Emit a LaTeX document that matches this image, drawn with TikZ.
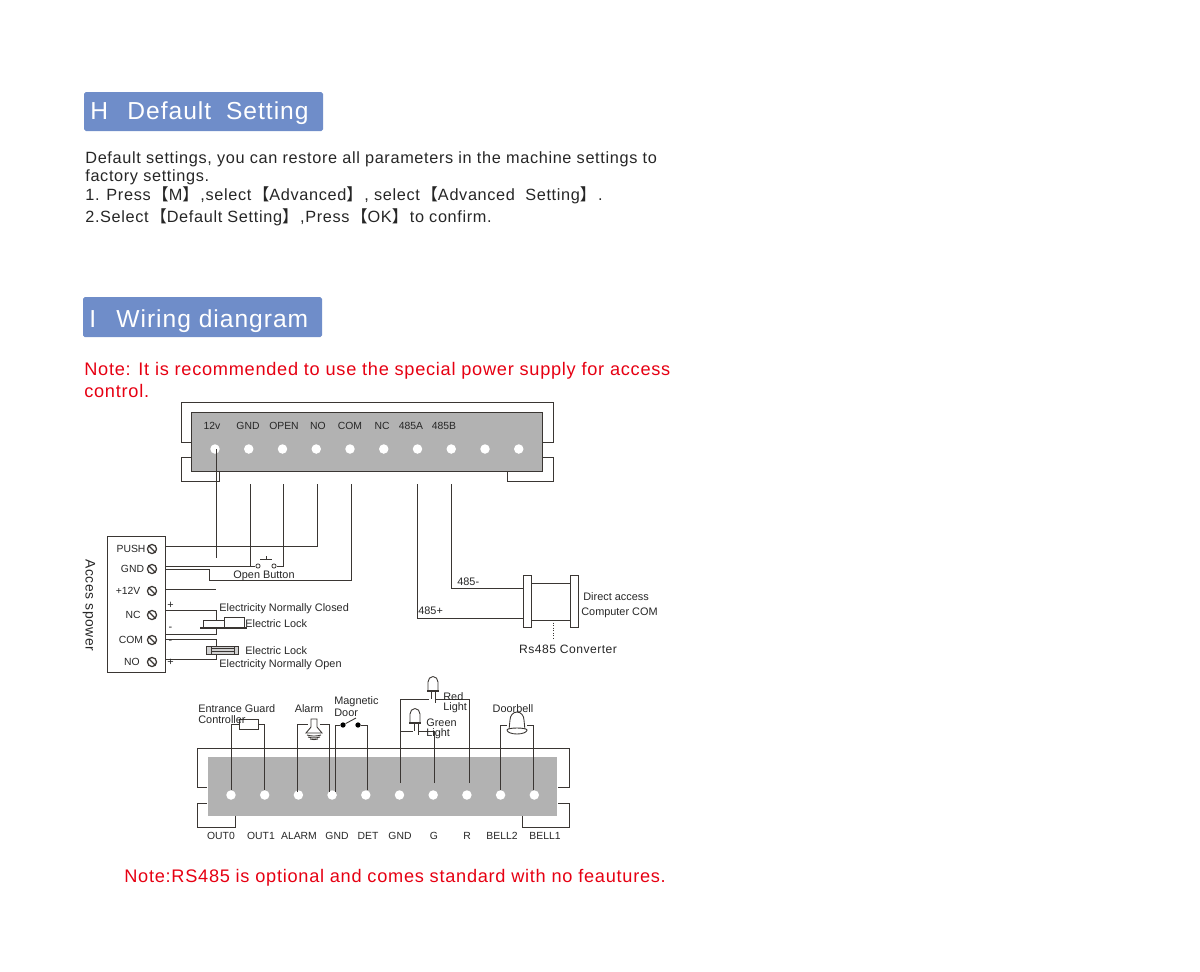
\documentclass[tikz,border=0pt]{standalone}
\usepackage{fontspec}
\setmainfont{Liberation Sans}
\newfontfamily\cjkfont{Noto Sans CJK SC}
\newfontfamily\spaced[LetterSpace=4]{Liberation Sans}
\newcommand{\lb}{\hspace{1pt}{\cjkfont 【}}
\newcommand{\rb}{{\cjkfont 】}\hspace{1pt}}
\definecolor{headblue}{HTML}{6F8DC9}
\definecolor{panelgray}{HTML}{B2B2B2}
\definecolor{wirecol}{HTML}{3A3633}
\definecolor{notered}{HTML}{E60012}
\tikzset{
  wire/.style={draw=wirecol, line width=0.5pt},
  lbl/.style={inner sep=0, text=black!85, font=\fontsize{6.2}{7}\selectfont},
  slbl/.style={lbl, font=\fontsize{5.9}{7}\selectfont},
  llbl/.style={lbl, anchor=west},
  body/.style={inner sep=0, anchor=west, text=black!85, font=\spaced\fontsize{9.27}{10}\selectfont},
  note/.style={inner sep=0, anchor=west, text=notered, font=\spaced\fontsize{10.35}{11}\selectfont},
  head/.style={inner sep=0, anchor=west, text=white, font=\spaced\fontsize{14}{16}\selectfont},
  headbox/.style={fill=headblue, rounded corners=1pt, draw=none},
  hole/.style={circle, fill=white, inner sep=0, minimum size=5.4pt},
  screw/.style={circle, draw=wirecol, line width=0.7pt, inner sep=0, minimum size=5.2pt,
    path picture={\draw[wirecol, line width=0.7pt] (path picture bounding box.north west) -- (path picture bounding box.south east) ;}},
  contact/.style={circle, draw=wirecol, fill=white, line width=0.45pt, inner sep=0, minimum size=2.4pt},
  dot/.style={circle, fill=black, inner sep=0, minimum size=3pt},
  part/.style={draw=wirecol, fill=white, line width=0.5pt, inner sep=0},
}
\begin{document}
\begin{tikzpicture}[x=0.02cm,y=-0.02cm]
  \useasboundingbox (0,0) rectangle (1200,971) ;
  % headings and text
  \draw[headbox] (84,92) rectangle (323,131) ;
  \node[head] (hH) at (90,113.5) {H\hspace{11pt}Default\hspace{4pt} Setting} ;
  \draw[headbox] (83,297) rectangle (322,337) ;
  \node[head] (hI) at (89,321) {I\hspace{11.5pt}Wiring diangram} ;
  \node[body] (t1) at (85,159) {Default settings, you can restore all parameters in the machine settings to} ;
  \node[body] (t2) at (85,177) {factory settings.} ;
  \node[body] (t3) at (85,195) {1. Press\lb M\rb,select\lb Advanced\rb, select\lb Advanced\ \ Setting\rb.} ;
  \node[body] (t4) at (85,217) {2.Select\lb Default Setting\rb,Press\lb OK\rb to confirm.} ;
  \node[note] (n1) at (84,371) {Note: It is recommended to use the special power supply for access} ;
  \node[note] (n2) at (84,390.5) {control.} ;
  \node[note] (n3) at (124,877.5) {Note:RS485 is optional and comes standard with no feautures.} ;
  % top terminal block
  \draw[wire] (191,442) -- (181,442) -- (181,402) -- (553,402) -- (553,442) -- (543,442) ;
  \draw[wire] (191,457) -- (181,457) -- (181,481) -- (219,481) -- (219,471) ;
  \draw[wire] (543,457) -- (553,457) -- (553,481) -- (507,481) -- (507,471) ;
  \node[draw=wirecol, fill=panelgray, line width=0.3pt, minimum width=199.5pt, minimum height=33.5pt, inner sep=0] (top) at (367,441.5) {} ;
  \foreach \i in {0,...,9} \node[hole] (th\i) at ({215+33.75*\i},449) {} ;
  \foreach \x/\t/\n in {212/12v/a,248/GND/b,284/OPEN/c,318/NO/d,350/COM/e,382/NC/f,411/485A/g,444/485B/h}
    \node[slbl] (tl\n) at (\x,425.5) {\t} ;
  % access power box
  \node[draw=wirecol, line width=0.5pt, fill=white, minimum width=33.5pt, minimum height=77.5pt, inner sep=0] (psu) at (136.5,604.5) {} ;
  \foreach \x/\y/\t/\n in {131/549/PUSH/a,132.5/569/GND/b,128/591/+12V/c,133/615/NC/d,131/640/COM/e,132/662/NO/f} {
    \node[slbl] (pl\n) at (\x,\y) {\t} ;
    \node[screw] (ps\n) at (152,\y) {} ;
  }
  \node[inner sep=0, rotate=-90, text=black!85, font=\spaced\fontsize{7.9}{8}\selectfont] (acc) at (89,605.5) {Acces spower} ;
  % wires to the power box
  \coordinate (w12a) at (216,449) ; \coordinate (w12b) at (216,558) ;
  \draw[wire] (w12a) -- (w12b) ;
  \coordinate (wGa) at (250,484) ; \coordinate (wGb) at (250,566) ;
  \coordinate (wOa) at (283,484) ; \coordinate (wOb) at (283,566) ;
  \coordinate (wNa) at (317,484) ; \coordinate (wCa) at (351,484) ;
  \coordinate (wAa) at (417,484) ; \coordinate (wBa) at (451,484) ;
  \coordinate (pPush) at (166,546) ; \coordinate (pGnd) at (166,566) ;
  \coordinate (pGndb) at (166,569) ; \coordinate (pV) at (166,589) ;
  \coordinate (wVb) at (216,589) ;
  \node[contact] (btnl) at (258,566) {} ;
  \node[contact] (btnr) at (274,566) {} ;
  \draw[wire] (wNa) |- (pPush) ;
  \draw[wire] (pGnd) -- (btnl) ;
  \draw[wire] (wGa) -- (wGb) ;
  \draw[wire] (wOa) -- (wOb) -- (btnr) ;
  \draw[wire] (wCa) -- (351,580) -- (209,580) -- (209,569) -- (pGndb) ;
  \draw[wire] (pV) -- (wVb) ;
  \coordinate (btna) at (260,559) ; \coordinate (btnb) at (272,559) ;
  \coordinate (btnc) at (266,559) ; \coordinate (btnd) at (266,556) ;
  \draw[wire] (btna) -- (btnb) (btnc) -- (btnd) ;
  \node[lbl] (open) at (264,575.5) {Open Button} ;
  % electric locks
  \coordinate (pNC) at (166,610) ; \coordinate (pMi) at (166,634) ;
  \draw[wire] (pNC) -- (216,610) -- (216,620) ;
  \draw[wire] (pMi) -- (216,634) -- (216,628) ;
  \node[part, minimum width=12.5pt, minimum height=4pt] (lka) at (214,623.5) {} ;
  \node[part, minimum width=11pt, minimum height=5.7pt] (lkb) at (234.5,622) {} ;
  \coordinate (lkc) at (200,628) ; \coordinate (lkd) at (247,628) ;
  \draw[wirecol, line width=1pt] (lkc) -- (lkd) ;
  \coordinate (pCOM) at (166,639) ; \coordinate (pNO) at (166,659) ;
  \draw[wire] (pCOM) -- (216,639) -- (216,646) ;
  \draw[wire] (pNO) -- (216,659) -- (216,654) ;
  \node[part, fill=panelgray!60, minimum width=18.7pt, minimum height=4.5pt] (lke) at (222.5,650) {} ;
  \draw[wire] (211,646) -- (211,654) (234,646) -- (234,654) (211,648.5) -- (234,648.5) (211,651.5) -- (234,651.5) ;
  \node[lbl] (sa) at (170.5,605) {+} ; \node[lbl] (sb) at (170.5,629) {-} ;
  \node[lbl] (sc) at (170.5,642) {-} ; \node[lbl] (sd) at (170.5,662) {+} ;
  \node[llbl] (encl) at (219,609) {Electricity Normally Closed} ;
  \node[llbl] (ell) at (245,624) {Electric Lock} ;
  \node[llbl] (elo) at (245,651) {Electric Lock} ;
  \node[llbl] (eno) at (219,664.5) {Electricity Normally Open} ;
  % converter
  \node[part, minimum width=5pt, minimum height=30pt] (cl) at (527.5,601.5) {} ;
  \node[part, minimum width=5pt, minimum height=30pt] (cr) at (574.5,601.5) {} ;
  \draw[wire] (532,583) -- (570,583) (532,620) -- (570,620) ;
  \coordinate (dota) at (553,620) ; \coordinate (dotb) at (553,640) ;
  \draw[wirecol, densely dotted, line width=0.45pt] (dota) -- (dotb) ;
  \coordinate (cA) at (523,618) ; \coordinate (cB) at (523,588) ;
  \draw[wire] (wAa) |- (cA) ;
  \draw[wire] (wBa) |- (cB) ;
  \node[llbl] (m485) at (457,582) {485-} ;
  \node[llbl] (p485) at (418,611) {485+} ;
  \node[llbl] (da) at (583,597) {Direct access} ;
  \node[llbl] (cc) at (581,612.5) {Computer COM} ;
  \node[lbl, font=\spaced\fontsize{6.9}{8}\selectfont] (rs) at (568,649) {Rs485 Converter} ;
  % bottom terminal block
  \draw[wire] (207,787) -- (197,787) -- (197,748) -- (569,748) -- (569,787) -- (558,787) ;
  \draw[wire] (207,803) -- (197,803) -- (197,827) -- (235,827) -- (235,816) ;
  \draw[wire] (558,803) -- (569,803) -- (569,827) -- (522,827) -- (522,816) ;
  \node[fill=panelgray, minimum width=199pt, minimum height=33.5pt, inner sep=0] (bot) at (382.5,786.5) {} ;
  \foreach \i in {0,...,9} \node[hole] (bh\i) at ({231+33.7*\i},795) {} ;
  \foreach \x/\t/\n in {221/OUT0/a,261/OUT1/b,299/ALARM/c,337/GND/d,368/DET/e,400/GND/f,434/G/g,467/R/h,502/BELL2/i,545/BELL1/j}
    \node[slbl] (bl\n) at (\x,835.5) {\t} ;
  % controller
  \node[part, fill=none, minimum width=11.3pt, minimum height=5.7pt] (res) at (249,724) {} ;
  \draw[wire] (bh0.north) |- (res.west) ;
  \draw[wire] (bh1.north) |- (res.east) ;
  % alarm
  \coordinate (ala) at (308,724) ; \coordinate (alb) at (320,724) ;
  \coordinate (alc) at (297,792) ; \coordinate (ald) at (329,792) ;
  \draw[wire] (alc) |- (ala) ;
  \draw[wire] (ald) |- (alb) ;
  \draw[part] (306,733) -- (311,727) -- (311,719) -- (317,719) -- (317,727) -- (322,733) -- cycle ;
  \draw[wire] (307,735) to[bend right=15] (321,735) (308,737) to[bend right=15] (320,737) (310,739) to[bend right=15] (318,739) ;
  % magnetic door
  \node[dot] (mda) at (343,725) {} ;
  \node[dot] (mdb) at (358,725) {} ;
  \coordinate (mdc) at (356,718) ;
  \coordinate (mdd) at (335,792) ; \coordinate (mde) at (367,790) ;
  \draw[wire] (mdd) |- (mda) ;
  \draw[wire] (mde) |- (mdb) ;
  \draw[wire] (mda) -- (mdc) ;
  % lights
  \coordinate (rla) at (429,699) ; \coordinate (rlb) at (436,699) ;
  \coordinate (gla) at (413,731) ; \coordinate (glb) at (418,731) ;
  \coordinate (lga) at (400,783) ; \coordinate (lgb) at (400,731) ;
  \coordinate (lgc) at (469,783) ; \coordinate (lgd) at (434,783) ;
  \draw[wire] (lga) |- (rla) ;
  \draw[wire] (lgc) |- (rlb) ;
  \draw[wire] (lgb) -- (gla) ;
  \draw[wire] (lgd) |- (glb) ;
  \draw[part] (428,691) -- (428,682) arc (180:360:5 and 5.5) -- (438,691) -- cycle ;
  \draw[wirecol, line width=0.9pt] (427,691) -- (439,691) ;
  \draw[wire] (431,691) -- (431,699) (435,691) -- (435,703) ;
  \draw[part] (410,723) -- (410,714) arc (180:360:5 and 5.5) -- (420,723) -- cycle ;
  \draw[wirecol, line width=0.9pt] (409,723) -- (421,723) ;
  \draw[wire] (414,723) -- (414,731) (418,723) -- (418,735) ;
  % doorbell
  \coordinate (dba) at (507,725) ; \coordinate (dbb) at (527,725) ;
  \coordinate (dbc) at (500,790) ; \coordinate (dbd) at (533,790) ;
  \draw[wire] (dbc) |- (dba) ;
  \draw[wire] (dbd) |- (dbb) ;
  \draw[part] (509,730) -- (510,720) arc (180:360:7 and 8) -- (525,730) -- cycle ;
  \draw[part] (507,730) arc (180:0:10 and 4) arc (0:-180:10 and 2) ;
  % part labels
  \node[llbl] (eg) at (198,708.5) {Entrance Guard} ;
  \node[llbl] (ctl) at (198,719.5) {Controller} ;
  \node[lbl] (alm) at (309,708.5) {Alarm} ;
  \node[llbl] (mag) at (334,701.5) {Magnetic} ;
  \node[llbl] (door) at (334,713) {Door} ;
  \node[llbl] (red) at (443,696.5) {Red} ;
  \node[llbl] (rlt) at (443,708) {Light} ;
  \node[llbl] (grn) at (426,722.5) {Green} ;
  \node[llbl] (glt) at (426,734) {Light} ;
  \node[lbl] (bell) at (513,708.5) {Doorbell} ;
\end{tikzpicture}
\end{document}
